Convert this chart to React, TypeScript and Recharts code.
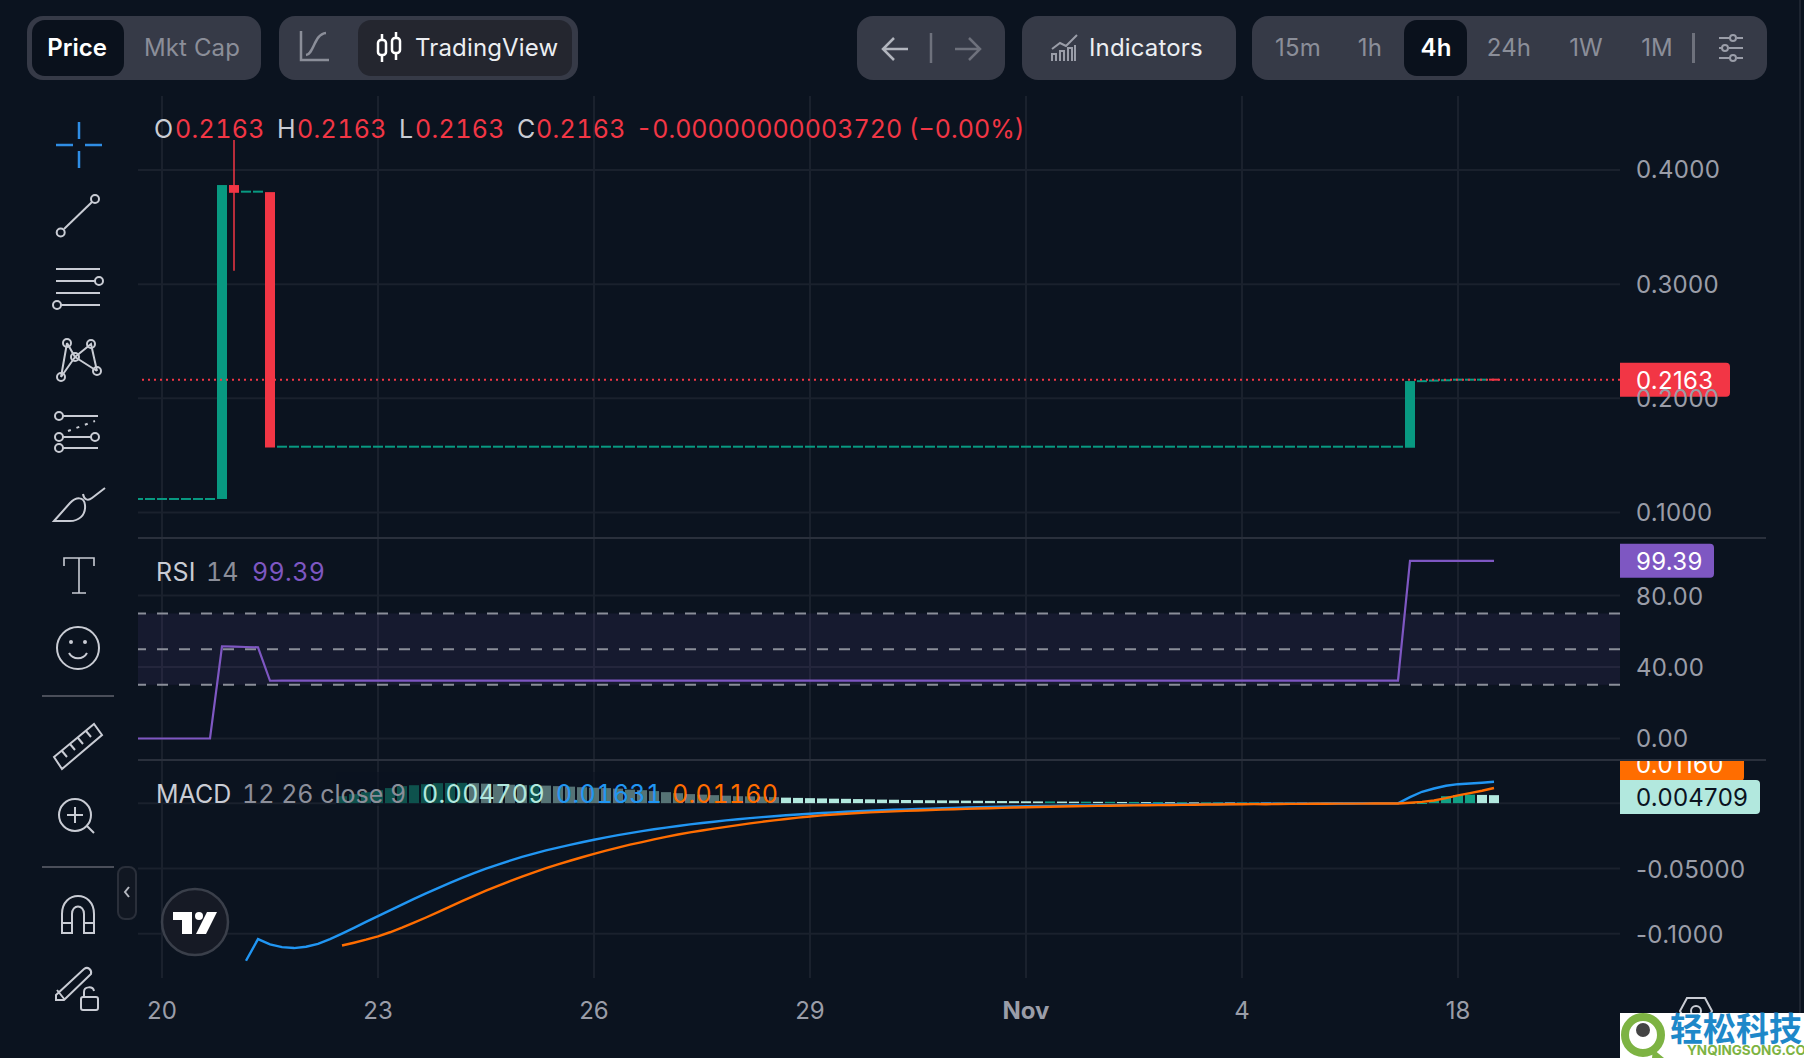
import React from "react";
import { ComposedChart, Bar, Line, XAxis, YAxis, CartesianGrid, ReferenceLine, ReferenceArea } from "recharts";

const BG = "#0b131f";
const GRID = "#1a212d";
const UP = "#089981";
const DOWN = "#f23645";
const FONT = "Inter, sans-serif";

// one entry per 4h candle, first candle sits two slots left of the "20" tick
const opens = [
  .1118,.1118,.1118,.1118,.1118,.1118,.1118,.1118,.3868,.381,.381,.3806,
  .1576,.1576,.1576,.1576,.1576,.1576,.1576,.1576,.1576,.1576,.1576,.1576,.1576,.1576,.1576,.1576,.1576,.1576,.1576,.1576,.1576,.1576,.1576,.1576,.1576,.1576,.1576,.1576,.1576,.1576,.1576,.1576,.1576,.1576,.1576,.1576,.1576,.1576,.1576,.1576,.1576,.1576,.1576,.1576,.1576,.1576,.1576,.1576,.1576,.1576,.1576,.1576,.1576,.1576,.1576,.1576,.1576,.1576,.1576,.1576,.1576,.1576,.1576,.1576,.1576,.1576,.1576,.1576,.1576,.1576,.1576,.1576,.1576,.1576,.1576,.1576,.1576,.1576,.1576,.1576,.1576,.1576,.1576,.1576,.1576,.1576,.1576,.1576,.1576,.1576,.1576,.1576,.1576,.1576,.1567,
  .215,.2155,.2158,.2163,.2163,.2163,.21632,
];
const closes = [
  .1118,.1118,.1118,.1118,.1118,.1118,.1118,.3868,.38,.381,.381,.1569,
  .1576,.1576,.1576,.1576,.1576,.1576,.1576,.1576,.1576,.1576,.1576,.1576,.1576,.1576,.1576,.1576,.1576,.1576,.1576,.1576,.1576,.1576,.1576,.1576,.1576,.1576,.1576,.1576,.1576,.1576,.1576,.1576,.1576,.1576,.1576,.1576,.1576,.1576,.1576,.1576,.1576,.1576,.1576,.1576,.1576,.1576,.1576,.1576,.1576,.1576,.1576,.1576,.1576,.1576,.1576,.1576,.1576,.1576,.1576,.1576,.1576,.1576,.1576,.1576,.1576,.1576,.1576,.1576,.1576,.1576,.1576,.1576,.1576,.1576,.1576,.1576,.1576,.1576,.1576,.1576,.1576,.1576,.1576,.1576,.1576,.1576,.1576,.1576,.1576,.1576,.1576,.1576,.1576,.1576,.2151,
  .215,.2155,.2158,.2163,.2163,.2163,.2163,
];
const wicks = [{ slot: 8, high: .4262, low: .3117 }];

const rsi = [
  0,0,0,0,0,0,0,51.6,51.4,51.2,51,32.3,
  32.4,32.4,32.4,32.4,32.4,32.4,32.4,32.4,32.4,32.4,32.4,32.4,32.4,32.4,32.4,32.4,32.4,32.4,32.4,32.4,32.4,32.4,32.4,32.4,32.4,32.4,32.4,32.4,32.4,32.4,32.4,32.4,32.4,32.4,32.4,32.4,32.4,32.4,32.4,32.4,32.4,32.4,32.4,32.4,32.4,32.4,32.4,32.4,32.4,32.4,32.4,32.4,32.4,32.4,32.4,32.4,32.4,32.4,32.4,32.4,32.4,32.4,32.4,32.4,32.4,32.4,32.4,32.4,32.4,32.4,32.4,32.4,32.4,32.4,32.4,32.4,32.4,32.4,32.4,32.4,32.4,32.4,32.4,32.4,32.4,32.4,32.4,32.4,32.4,32.4,32.4,32.4,32.4,32.4,99.39,
  99.39,99.39,99.39,99.39,99.39,99.39,99.39,
];

const macd = [
  null,null,null,null,null,null,null,null,null,
  -.1206,-.104,-.1081,-.1102,-.1109,-.1099,-.1077,-.104,-.0998,-.0954,-.0909,-.0864,-.082,-.0776,-.0733,-.0691,-.065,-.061,-.0572,-.0536,-.0502,-.047,-.044,-.0412,-.0386,-.0362,-.034,-.0319,-.0299,-.028,-.0262,-.0245,-.0229,-.0214,-.02,-.0187,-.0175,-.0163,-.0152,-.0142,-.0132,-.0123,-.0115,-.0107,-.01,-.0093,-.0087,-.0081,-.0076,-.0071,-.0066,-.0062,-.0058,-.0054,-.0051,-.0048,-.0045,-.0042,-.0039,-.0036,-.0034,-.0032,-.003,-.0028,-.0026,-.0024,-.0022,-.0021,-.0019,-.0018,-.0017,-.0016,-.0015,-.0014,-.0013,-.0012,-.0011,-.001,-.0009,-.0009,-.0008,-.0007,-.0007,-.0006,-.0006,-.0005,-.0005,-.0004,-.0004,-.0004,-.0003,-.0003,-.0003,-.0002,-.0002,-.0002,-.0002,
  .0046,.0087,.0112,.0133,.0145,.015,.0156,.01631,
];
const signal = [
  null,null,null,null,null,null,null,null,null,null,null,null,null,null,null,null,null,
  -.1089,-.1068,-.1045,-.1019,-.0988,-.0953,-.0915,-.0875,-.0834,-.0792,-.075,-.0709,-.067,-.0633,-.0597,-.0563,-.0529,-.0498,-.0469,-.0441,-.0414,-.0388,-.0363,-.034,-.0318,-.0298,-.0277,-.0258,-.024,-.0224,-.0209,-.0195,-.0182,-.0168,-.0155,-.0143,-.0132,-.0121,-.0111,-.0102,-.0094,-.0087,-.0081,-.0076,-.0071,-.0067,-.0063,-.0059,-.0056,-.0053,-.005,-.0047,-.0044,-.0041,-.0039,-.0036,-.0034,-.0032,-.003,-.0028,-.0026,-.0024,-.0023,-.0021,-.002,-.0018,-.0017,-.0016,-.0015,-.0014,-.0013,-.0012,-.0011,-.001,-.0009,-.0009,-.0008,-.0008,-.0007,-.0006,-.0006,-.0005,-.0005,-.0004,-.0004,-.0004,-.0003,-.0003,-.0003,
  .0003,.001,.002,.0038,.0059,.0077,.0095,.0116,
];
const histogram = [
  null,null,null,null,null,null,null,null,null,null,null,null,null,null,null,null,null,
  .0053,.0069,.0084,.0099,.0115,.013,.0137,.0145,.0153,.0154,.0155,.0153,.0149,.0145,.0141,.0137,.0137,.0134,.013,.0126,.0122,.0118,.0115,.0111,.0103,.0099,.0092,.0084,.0076,.0069,.0065,.0061,.0057,.0053,.0052,.005,.0046,.0042,.004,.0038,.0036,.0034,.0033,.0031,.0029,.0027,.0026,.0024,.0023,.0022,.0021,.002,.0019,.0018,.0017,.0016,.0015,.0014,.0013,.0013,.0012,.0011,.0011,.001,.001,.0009,.0009,.0008,.0008,.0007,.0007,.0006,.0006,.0006,.0005,.0005,.0005,.0004,.0004,.0004,.0003,.0003,.0003,.0002,.0002,.0002,.0002,.0001,.0001,.0001,.0001,
  .0023,.0053,.0062,.0065,.0063,.0061,.0054,.004709,
];

const xTicks = [0, 18, 36, 54, 72, 90, 108];
const xLabels = ["20", "23", "26", "29", "Nov", "4", "18"];
const priceTicks = [0.1, 0.2, 0.3, 0.4];
const rsiTicks = [0, 40, 80];
const macdTicks = [-0.1, -0.05, 0];
const xDomain = [-2, 121.5];

const table = opens.map((open, n) => {
  const close = closes[n];
  const wick = wicks.find((w) => w.slot === n);
  const prev = n > 0 ? histogram[n - 1] : null;
  const h = histogram[n];
  return {
    t: n - 2,
    open,
    close,
    range: [wick ? wick.low : Math.min(open, close), wick ? wick.high : Math.max(open, close)],
    rsi: rsi[n],
    macd: macd[n],
    signal: signal[n],
    hist: h,
    rising: h != null && (prev == null || h >= prev),
    last: n === opens.length - 1,
  };
});

const Candle = (p: any) => {
  const { x, y, width, height, payload } = p;
  const [lo, hi] = payload.range;
  const up = payload.close >= payload.open;
  const color = payload.last ? DOWN : up ? UP : DOWN;
  const toY = (v: number) => (hi === lo ? y : y + ((hi - v) / (hi - lo)) * height);
  const top = toY(Math.max(payload.open, payload.close));
  const bot = toY(Math.min(payload.open, payload.close));
  return (
    <g>
      {height > 0 && bot - top < height - 0.5 && (
        <line x1={x + width / 2} x2={x + width / 2} y1={y} y2={y + height} stroke={color} strokeWidth={1.5} />
      )}
      <rect x={x} y={top - (bot - top < 2 ? 1 : 0)} width={width} height={Math.max(bot - top, 2)} fill={color} />
    </g>
  );
};

const HistBar = (p: any) => {
  const { x, y, width, height, payload } = p;
  return <rect x={x} y={y} width={width} height={Math.max(height, 1)} fill={payload.rising ? "#12a085" : "#b2e8de"} />;
};

const Tag = ({ viewBox, text, w, fill, color, dy = 0 }: any) => {
  const right = viewBox.x + viewBox.width;
  const cy = viewBox.y + dy;
  return (
    <g>
      <path d={`M${right} ${cy - 17}h${w - 4}q4 0 4 4v26q0 4 -4 4h-${w - 4}z`} fill={fill} />
      <text x={right + 16} y={cy + 0.5} fill={color} fontSize={24} fontFamily={FONT} dominantBaseline="central" letterSpacing={0.3}>
        {text}
      </text>
    </g>
  );
};

const yTick = (digits: number, nudge: number) => (p: any) => (
  <text x={1636} y={p.y + nudge} fill="#9a9da8" fontSize={24} fontFamily={FONT} dominantBaseline="central" letterSpacing={0.3}>
    {p.payload.value.toFixed(digits)}
  </text>
);

const macdTickText = (p: any) => (
  <text x={1636} y={p.y + 1} fill="#9a9da8" fontSize={24} fontFamily={FONT} dominantBaseline="central" letterSpacing={0.3}>
    {p.payload.value === -0.05 ? "-0.05000" : p.payload.value === -0.1 ? "-0.1000" : ""}
  </text>
);

const xTick = (p: any) => {
  const label = xLabels[xTicks.indexOf(p.payload.value)];
  return (
    <text x={p.x} y={1010 - 760} fill="#9a9da8" fontSize={24} fontFamily={FONT} textAnchor="middle" dominantBaseline="central" fontWeight={label === "Nov" ? 700 : 400}>
      {label}
    </text>
  );
};

const PLOT_MARGIN = { left: 138, right: 0, top: 0, bottom: 0 };

const Abs = ({ x, y, w, h, bg, r, children, style }: any) => (
  <div style={{ position: "absolute", left: x, top: y, width: w, height: h, background: bg, borderRadius: r, ...style }}>{children}</div>
);

const Txt = ({ x, y, c, s = 24, w = 400, center, children, ls = 0.15, tnum }: any) => (
  <div
    style={{
      position: "absolute",
      left: x,
      top: y - 20,
      height: 40,
      lineHeight: "40px",
      color: c,
      fontSize: s,
      fontWeight: w,
      fontFamily: FONT,
      whiteSpace: "nowrap",
      letterSpacing: ls,
      fontVariantNumeric: tnum ? "tabular-nums" : undefined,
      transform: center ? "translateX(-50%)" : undefined,
    }}
  >
    {children}
  </div>
);

const ICON = "#c9ccd4";
const Tools = () => (
  <svg width={140} height={1058} style={{ position: "absolute", left: 0, top: 0 }} fill="none" stroke={ICON} strokeWidth={2}>
    <path d="M56 145H73M85 145H102M79 122V139M79 151V168" stroke="#2f8de4" strokeWidth={2.5} />
    <circle cx={60.7} cy={232.5} r={4} /><circle cx={95} cy={199} r={4} /><path d="M64 229L92 202" />
    <path d="M56 269H100M56 281H95M56 293H100M61 305H100" /><circle cx={99} cy={281} r={4} /><circle cx={57} cy={305} r={4} />
    <path d="M67 343L61 377M67 343L75 357L91 344L97 371M61 377L75 357L97 371" /><circle cx={67} cy={343} r={4} /><circle cx={91} cy={344} r={4} /><circle cx={61} cy={377} r={4} /><circle cx={97} cy={371} r={4} /><circle cx={75} cy={357} r={4} />
    <path d="M63 416H98M63 437H91M63 448H98" /><path d="M68 431L95 421" strokeDasharray="3 6" /><circle cx={59} cy={416} r={4} /><circle cx={59} cy={437} r={4} /><circle cx={95} cy={437} r={4} /><circle cx={59} cy={448} r={4} />
    <path d="M54 521L70 503C76 497 84 496 85 505C86 516 78 521 70 521ZM83 494C84 500 88 501 92 498L105 488" />
    <path d="M64 566V558H94V566M79 558V593M72 593H86" strokeWidth={1.6} />
    <circle cx={78} cy={648} r={21} /><path d="M69 653C73 660 83 660 87 653" /><circle cx={71} cy={642} r={1} /><circle cx={85} cy={642} r={1} />
    <path d="M42 696H114M42 867H114" stroke="#4a4e59" />
    <path d="M54 757L94 724L102 735L62 769ZM62 751L67 757M70 744L75 750M78 738L83 744M86 731L91 737" />
    <circle cx={75} cy={815} r={16} /><path d="M67 815H83M75 807V823M87 826L94 833" />
    <path d="M62 933V914C62 890 94 890 94 914V933H84V914C84 904 72 904 72 914V933ZM62 923H72M84 923H94" />
    <path d="M56 995L84 969C88 966 92 970 91 974L64 1000H56ZM57 990L65 1000" />
    <rect x={81} y={997} width={17} height={13} rx={2} /><path d="M84 997V992C84 986 93 986 94 991" />
    <rect x={118} y={867} width={18} height={52} rx={7} stroke="#2a2f3a" fill="#111722" />
    <path d="M129 887L125 892L129 897" stroke="#b5b8c0" />
  </svg>
);

const TvLogo = () => (
  <svg width={70} height={70} style={{ position: "absolute", left: 160, top: 887 }}>
    <circle cx={35} cy={35} r={33} fill="#161a25" stroke="#3a3f4a" strokeWidth={2.5} />
    <path d="M13 25H32V47H22V33H13ZM47 25H57L46 47H36Z" fill="#fff" />
    <circle cx={39} cy={29} r={4} fill="#fff" />
  </svg>
);

const BOX = "#363a47";

const TopBar = () => (
  <>
    <Abs x={27} y={16} w={234} h={64} r={16} bg={BOX} />
    <Abs x={32} y={20} w={92} h={56} r={13} bg="#0a111c" />
    <Txt x={77} y={48} c="#fff" w={600} center ls={0}>Price</Txt>
    <Txt x={192} y={48} c="#8b8e99" center>Mkt Cap</Txt>

    <Abs x={279} y={16} w={299} h={64} r={16} bg={BOX} />
    <Abs x={358} y={20} w={214} h={56} r={13} bg="#24262f" />
    <svg width={40} height={40} style={{ position: "absolute", left: 296, top: 28 }} fill="none" stroke="#8b8e99" strokeWidth={2.5}>
      <path d="M5 3V32H33M10 27C18 26 18 6 30 5" />
    </svg>
    <svg width={34} height={40} style={{ position: "absolute", left: 373, top: 28 }} fill="none" stroke="#fff" strokeWidth={2.5}>
      <rect x={5} y={12} width={8} height={15} rx={3} /><rect x={19} y={10} width={8} height={15} rx={3} /><path d="M9 6V12M9 27V34M23 4V10M23 25V32" />
    </svg>
    <Txt x={415} y={48} c="#eceef2">TradingView</Txt>

    <Abs x={857} y={16} w={148} h={64} r={16} bg={BOX} />
    <svg width={148} height={64} style={{ position: "absolute", left: 857, top: 16 }} fill="none" strokeWidth={2.5}>
      <path d="M27 33H51M37 22L26 33L37 44" stroke="#b2b5be" />
      <path d="M74 17V47" stroke="#6e717c" />
      <path d="M98 33H122M112 22L123 33L112 44" stroke="#6e717c" />
    </svg>

    <Abs x={1022} y={16} w={214} h={64} r={16} bg={BOX} />
    <svg width={30} height={30} style={{ position: "absolute", left: 1050, top: 33 }} fill="none" stroke="#9a9da8" strokeWidth={2}>
      <path d="M2 16L10 10L16 13L27 2M2 28V21H6V28M10 28V18H14V28M18 28V15H22V28M25 28V12" />
    </svg>
    <Txt x={1089} y={48} c="#eceef2">Indicators</Txt>

    <Abs x={1252} y={16} w={515} h={64} r={16} bg={BOX} />
    <Abs x={1404} y={20} w={63} h={56} r={13} bg="#0a111c" />
    <Txt x={1298} y={48} c="#8b8e99" center>15m</Txt>
    <Txt x={1370} y={48} c="#8b8e99" center>1h</Txt>
    <Txt x={1436} y={48} c="#fff" w={600} center>4h</Txt>
    <Txt x={1509} y={48} c="#8b8e99" center>24h</Txt>
    <Txt x={1586} y={48} c="#8b8e99" center>1W</Txt>
    <Txt x={1657} y={48} c="#8b8e99" center>1M</Txt>
    <Abs x={1692} y={33} w={3} h={30} bg="#6e717c" />
    <svg width={30} height={30} style={{ position: "absolute", left: 1716, top: 33 }} fill="none" stroke="#9a9da8" strokeWidth={2}>
      <path d="M3 5H14M21 5H27M3 15H6M13 15H27M3 25H14M21 25H27" /><circle cx={17} cy={5} r={3} /><circle cx={9} cy={15} r={3} /><circle cx={17} cy={25} r={3} />
    </svg>
  </>
);

const LEG = { s: 25, tnum: true, ls: 0.35 };
const LEG2 = { s: 25, tnum: true, ls: 0 };

const Legends = () => (
  <>
    <Txt x={154} y={129} c="#c9ccd4" {...LEG}>O</Txt>
    <Txt x={175} y={129} c={DOWN} {...LEG}>0.2163</Txt>
    <Txt x={277} y={129} c="#c9ccd4" {...LEG}>H</Txt>
    <Txt x={297} y={129} c={DOWN} {...LEG}>0.2163</Txt>
    <Txt x={399} y={129} c="#c9ccd4" {...LEG}>L</Txt>
    <Txt x={415} y={129} c={DOWN} {...LEG}>0.2163</Txt>
    <Txt x={517} y={129} c="#c9ccd4" {...LEG}>C</Txt>
    <Txt x={536} y={129} c={DOWN} {...LEG}>0.2163</Txt>
    <Txt x={636} y={129} c={DOWN} {...LEG2}>-0.00000000003720 (−0.00%)</Txt>

    <Txt x={156} y={572} c="#c9ccd4" {...LEG}>RSI</Txt>
    <Txt x={206} y={572} c="#8b8e99" {...LEG2}>14</Txt>
    <Txt x={252} y={572} c="#7e57c2" {...LEG}>99.39</Txt>

    <Abs x={336} y={772} w={444} h={34} bg="rgba(11,19,31,0.55)" />
    <Txt x={156} y={794} c="#c9ccd4" {...LEG2}>MACD</Txt>
    <Txt x={242} y={794} c="#8b8e99" {...LEG2}>12 26 close 9</Txt>
    <Txt x={422} y={794} c="#b2e8de" {...LEG}>0.004709</Txt>
    <Txt x={556} y={794} c="#2196f3" {...LEG}>0.01631</Txt>
    <Txt x={672} y={794} c="#ff6d00" {...LEG}>0.01160</Txt>
  </>
);

const Watermark = () => (
  <>
    <svg width={44} height={36} style={{ position: "absolute", left: 1674, top: 994 }} fill="none" stroke="#c9ccd4" strokeWidth={2}>
      <path d="M13 4H31L38 17L31 30H13L6 17Z" /><circle cx={22} cy={17} r={5} />
    </svg>
    <Abs x={1620} y={1013} w={184} h={45} bg="#fff">
      <svg width={48} height={45} style={{ position: "absolute", left: 0, top: 0 }}>
        <circle cx={23} cy={22} r={18} fill="none" stroke="#7db343" strokeWidth={8} />
        <circle cx={23} cy={17} r={7} fill="#444" />
        <path d="M33 36L44 45H32Z" fill="#7db343" />
      </svg>
      <div style={{ position: "absolute", left: 50, top: -4, color: "#1e88c9", fontFamily: "'Noto Sans CJK SC'", fontWeight: 700, fontSize: 33, lineHeight: "36px", whiteSpace: "nowrap" }}>轻松科技</div>
      <div style={{ position: "absolute", left: 67, top: 30, color: "#7db343", fontFamily: "Inter", fontWeight: 700, fontSize: 13.5, lineHeight: "14px", whiteSpace: "nowrap" }}>YNQINGSONG.COM</div>
    </Abs>
  </>
);

export default function App() {
  return (
    <div style={{ position: "absolute", left: 0, top: 0, width: 1804, height: 1058, background: BG, overflow: "hidden" }}>
      <div style={{ position: "absolute", left: 0, top: 96 }}>
        <ComposedChart width={1804} height={441} data={table} margin={PLOT_MARGIN} barSize={10}>
          <CartesianGrid stroke={GRID} strokeWidth={2} syncWithTicks />
          <XAxis dataKey="t" type="number" domain={xDomain} ticks={xTicks} hide allowDataOverflow />
          <YAxis orientation="right" width={184} domain={[0.0785, 0.4648]} ticks={priceTicks} allowDataOverflow axisLine={false} tickLine={false} tick={yTick(4, 0)} />
          <ReferenceLine y={0.2163} stroke={DOWN} strokeWidth={2} strokeDasharray="2 4" label={(p: any) => <Tag viewBox={p.viewBox} text="0.2163" w={110} fill={DOWN} color="#fff" />} />
          <Bar dataKey="range" isAnimationActive={false} shape={Candle} />
        </ComposedChart>
      </div>

      <div style={{ position: "absolute", left: 0, top: 538 }}>
        <ComposedChart width={1804} height={221} data={table} margin={PLOT_MARGIN}>
          <CartesianGrid stroke={GRID} strokeWidth={2} syncWithTicks />
          <XAxis dataKey="t" type="number" domain={xDomain} ticks={xTicks} hide allowDataOverflow />
          <YAxis orientation="right" width={184} domain={[-11.47, 112.17]} ticks={rsiTicks} allowDataOverflow axisLine={false} tickLine={false} tick={yTick(2, 0.5)} />
          <ReferenceArea y1={30} y2={70} fill="#7e57c2" fillOpacity={0.1} stroke="none" />
          <ReferenceLine y={70} stroke="#8a8e99" strokeWidth={2} strokeDasharray="11 11" />
          <ReferenceLine y={50} stroke="#8a8e99" strokeWidth={2} strokeDasharray="11 11" />
          <ReferenceLine y={30} stroke="#8a8e99" strokeWidth={2} strokeDasharray="11 11" />
          <Line dataKey="rsi" stroke="#7e57c2" strokeWidth={2.2} dot={false} isAnimationActive={false} />
          <ReferenceLine y={99.39} stroke="none" label={(p: any) => <Tag viewBox={p.viewBox} text="99.39" w={94} fill="#7e57c2" color="#fff" />} />
        </ComposedChart>
      </div>

      <div style={{ position: "absolute", left: 0, top: 760 }}>
        <ComposedChart width={1804} height={298} data={table} margin={PLOT_MARGIN} barSize={10}>
          <CartesianGrid stroke={GRID} strokeWidth={2} syncWithTicks />
          <XAxis dataKey="t" type="number" domain={xDomain} ticks={xTicks} height={80} axisLine={false} tickLine={false} tick={xTick} allowDataOverflow interval={0} />
          <YAxis orientation="right" width={184} domain={[-0.1338, 0.033]} ticks={macdTicks} allowDataOverflow axisLine={false} tickLine={false} tick={macdTickText} />
          <Bar dataKey="hist" isAnimationActive={false} shape={HistBar} />
          <Line dataKey="macd" stroke="#2196f3" strokeWidth={2.4} dot={false} isAnimationActive={false} />
          <Line dataKey="signal" stroke="#ff6d00" strokeWidth={2.4} dot={false} isAnimationActive={false} />
          <ReferenceLine y={0.0116} stroke="none" label={(p: any) => <Tag viewBox={p.viewBox} text="0.01160" w={124} fill="#ff6d00" color="#fff" dy={-24} />} />
          <ReferenceLine y={0.004709} stroke="none" label={(p: any) => <Tag viewBox={p.viewBox} text="0.004709" w={140} fill="#b2e8de" color="#0b131f" />} />
        </ComposedChart>
      </div>

      <Abs x={138} y={537} w={1628} h={2} bg="#2a303c" />
      <Abs x={138} y={759} w={1628} h={2} bg="#2a303c" />
      <Abs x={1799} y={0} w={2} h={1058} bg="#1d2430" />

      <TopBar />
      <Tools />
      <TvLogo />
      <Legends />
      <Watermark />
    </div>
  );
}
